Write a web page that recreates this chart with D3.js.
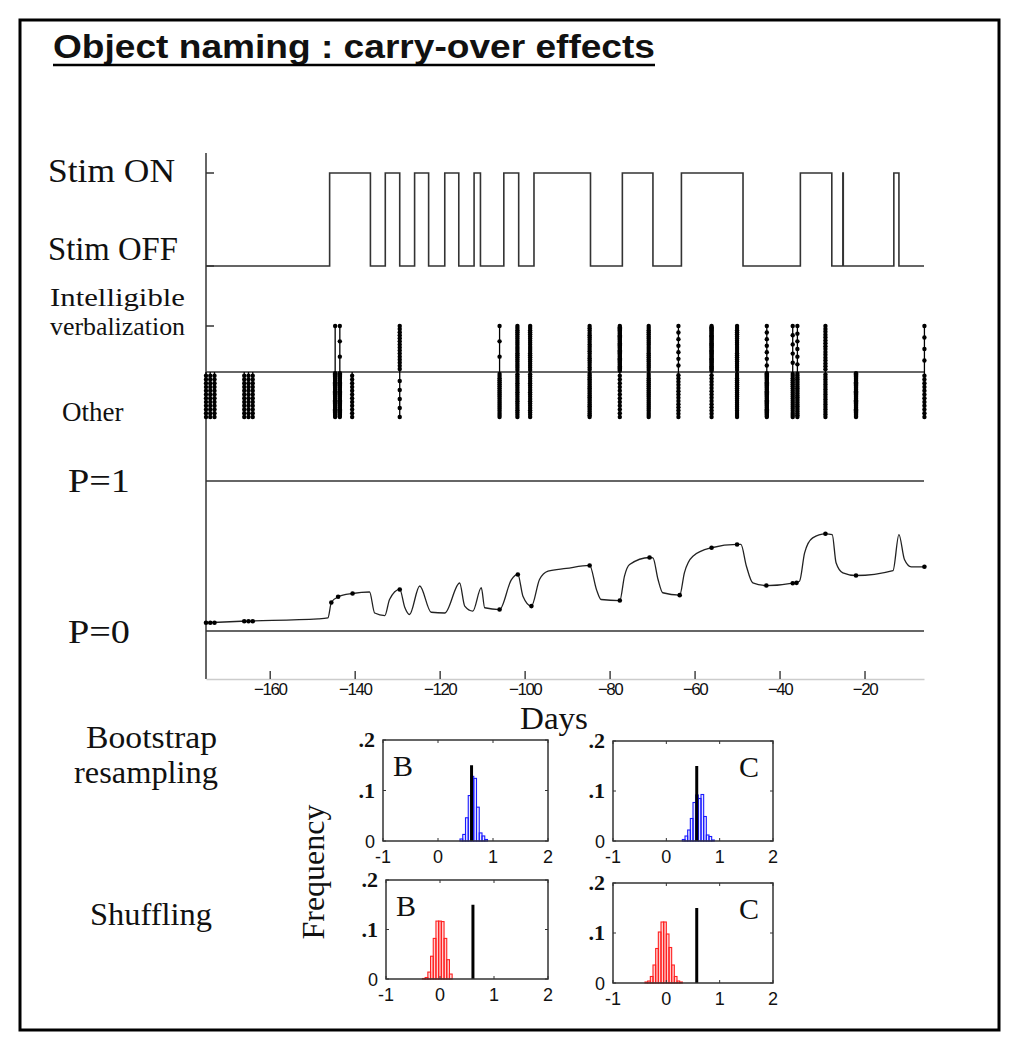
<!DOCTYPE html>
<html>
<head>
<meta charset="utf-8">
<script src="https://cdn.jsdelivr.net/npm/d3@7"></script>
<style>
  body { margin: 0; background: #fff; }
  text { fill: #111; }
</style>
</head>
<body>
<svg id="chart" width="1017" height="1050"></svg>
<script>
// ---- data ----
const dayDomain = [-175, -6];
const dayTicks = [-160, -140, -120, -100, -80, -60, -40, -20];

// stimulation switched on / off (days)
const stimOnDays  = [-145.9, -132.8, -125.9, -118.8, -111.9, -104.9, -97.8, -77.0, -63.1, -35.1, -25.1, -13.1];
const stimOffDays = [-136.3, -129.4, -122.6, -115.5, -110.4, -101.4, -84.5, -69.8, -48.6, -27.7, -25.0, -11.9];

// test sessions: day, number of intelligible / other responses
const sessionDays        = [-175, -174, -173, -166, -165, -164, -144.6, -143.5, -140.6, -129.4, -105.9, -101.7, -98.7, -84.7, -77.6, -70.8, -63.8, -56.0, -50.0, -43.0, -36.9, -35.8, -29.2, -22.0, -5.9];
const intelligibleCounts = [0, 0, 0, 0, 0, 0, 1, 3, 0, 15, 3, 22, 22, 20, 40, 22, 7, 40, 22, 7, 5, 6, 16, 0, 4];
const otherCounts        = [12, 12, 12, 12, 12, 12, 40, 40, 12, 5, 22, 20, 20, 25, 12, 22, 14, 14, 22, 40, 22, 25, 18, 40, 12];

// estimated probability of intelligible verbalization
const probDays   = [-174.8, -166.7, -148.6, -146.3, -145.5, -143.9, -140.5, -136.5, -135.3, -132.9, -131.8, -129.4, -128.2, -127.1, -124.7, -122.0, -118.8, -115.3, -114.1, -112.2, -110.2, -109.4, -105.9, -103.1, -101.6, -100.4, -98.4, -96.5, -94.5, -90.2, -84.7, -83.1, -82.0, -77.6, -76.5, -75.3, -70.6, -69.8, -68.6, -67.5, -63.5, -62.4, -60.4, -56.0, -50.0, -49.1, -47.8, -46.3, -43.1, -36.5, -35.3, -34.1, -32.2, -29.2, -27.6, -26.7, -25.1, -22.0, -13.3, -11.9, -10.6, -9.0, -5.9];
const probValues = [0.055, 0.065, 0.081, 0.088, 0.19, 0.228, 0.25, 0.26, 0.12, 0.103, 0.21, 0.277, 0.157, 0.11, 0.30, 0.125, 0.12, 0.32, 0.166, 0.133, 0.289, 0.155, 0.143, 0.343, 0.377, 0.232, 0.166, 0.343, 0.399, 0.417, 0.437, 0.277, 0.21, 0.203, 0.366, 0.443, 0.49, 0.488, 0.343, 0.255, 0.239, 0.388, 0.499, 0.555, 0.577, 0.577, 0.432, 0.321, 0.303, 0.321, 0.332, 0.521, 0.621, 0.648, 0.643, 0.455, 0.388, 0.37, 0.403, 0.643, 0.477, 0.428, 0.428];
const markDays   = [-175, -174, -173, -166, -165, -164, -145.5, -143.9, -140.5, -129.4, -105.9, -101.6, -98.4, -84.7, -77.6, -70.6, -63.5, -56.0, -50.0, -43.1, -36.9, -36.0, -29.2, -22.0, -5.9];
const markValues = [0.055, 0.055, 0.055, 0.065, 0.065, 0.065, 0.19, 0.228, 0.25, 0.277, 0.143, 0.377, 0.166, 0.437, 0.203, 0.49, 0.239, 0.555, 0.577, 0.303, 0.318, 0.321, 0.648, 0.37, 0.428];

// histograms (bin left edges, bin width 0.05, frequency)
const binWidth = 0.05;
const bootBEdges = [0.40, 0.45, 0.50, 0.55, 0.60, 0.65, 0.70, 0.75, 0.80, 0.85];
const bootBFreq  = [0.004, 0.013, 0.046, 0.090, 0.128, 0.124, 0.067, 0.016, 0.010, 0.003];
const bootCEdges = [0.30, 0.35, 0.40, 0.45, 0.50, 0.55, 0.60, 0.65, 0.70, 0.75, 0.80, 0.85];
const bootCFreq  = [0.003, 0.010, 0.022, 0.045, 0.077, 0.092, 0.085, 0.093, 0.049, 0.012, 0.009, 0.002];
const shufBEdges = [-0.325, -0.275, -0.225, -0.175, -0.125, -0.075, -0.025, 0.025, 0.075, 0.125, 0.175];
const shufBFreq  = [0.001, 0.003, 0.014, 0.046, 0.082, 0.117, 0.117, 0.116, 0.082, 0.039, 0.010];
const shufCEdges = [-0.40, -0.35, -0.30, -0.25, -0.20, -0.15, -0.10, -0.05, 0.00, 0.05, 0.10, 0.15, 0.20, 0.25];
const shufCFreq  = [0.002, 0.004, 0.013, 0.036, 0.069, 0.102, 0.122, 0.122, 0.098, 0.071, 0.036, 0.013, 0.004, 0.002];
const observedB = 0.61, observedC = 0.57, observedFreq = 0.15;
const histXTicks = [-1, 0, 1, 2];
const histYTicks = [0, 0.1, 0.2];
const histYLabels = ["0", ".1", ".2"];

// ---- drawing ----
const svg = d3.select("#chart");
const ink = "#333";
const serif = "'Liberation Serif', 'Times New Roman', serif";
const sans = "'Liberation Sans', Arial, sans-serif";

svg.append("rect").attr("x", 20).attr("y", 20).attr("width", 979).attr("height", 1010)
  .attr("fill", "none").attr("stroke", "#000").attr("stroke-width", 3);

// title
svg.append("text").attr("x", 53).attr("y", 58)
  .attr("font-family", sans).attr("font-weight", "bold").attr("font-size", 34)
  .attr("textLength", 602).attr("lengthAdjust", "spacingAndGlyphs")
  .text("Object naming : carry-over effects");
svg.append("line").attr("x1", 53).attr("x2", 655).attr("y1", 65).attr("y2", 65)
  .attr("stroke", "#000").attr("stroke-width", 2.5);

const x = d3.scaleLinear().domain(dayDomain).range([206, 924]);
const yStim = d3.scaleLinear().domain([0, 1]).range([266, 173]);
const rasterBase = 372, rasterUp = 46, rasterDown = 45;
const yP = d3.scaleLinear().domain([0, 1]).range([631, 481]);

// left axis + x axis
svg.append("line").attr("x1", 206).attr("x2", 206).attr("y1", 153).attr("y2", 679)
  .attr("stroke", ink).attr("stroke-width", 1.5);
const xAxis = svg.append("g").attr("transform", "translate(0,679)")
  .call(d3.axisBottom(x).tickValues(dayTicks).tickSize(-8).tickSizeOuter(0).tickPadding(4));
xAxis.select(".domain").attr("stroke", "#ccc").attr("stroke-width", 1.5);
xAxis.selectAll(".tick line").attr("stroke", "#444").attr("stroke-width", 1.5);
xAxis.selectAll(".tick text").attr("font-family", sans).attr("font-size", 17).attr("fill", "#444")
  .style("letter-spacing", "-1.5px");

[yStim(1), yStim(0), rasterBase - rasterUp].forEach(yy => {
  svg.append("line").attr("x1", 206).attr("x2", 214).attr("y1", yy).attr("y2", yy)
    .attr("stroke", ink).attr("stroke-width", 1.5);
});

// stim trace
const stimPts = [[dayDomain[0], 0]];
stimOnDays.forEach((on, i) => {
  stimPts.push([on, 0], [on, 1], [stimOffDays[i], 1], [stimOffDays[i], 0]);
});
stimPts.push([dayDomain[1], 0]);
svg.append("path").datum(stimPts)
  .attr("d", d3.line().x(d => x(d[0])).y(d => yStim(d[1])))
  .attr("fill", "none").attr("stroke", ink).attr("stroke-width", 1.6);

// raster
svg.append("line").attr("x1", 206).attr("x2", x(dayDomain[1])).attr("y1", rasterBase).attr("y2", rasterBase)
  .attr("stroke", ink).attr("stroke-width", 1.6);
const raster = svg.append("g");
sessionDays.forEach((day, i) => {
  const cx = x(day);
  [[intelligibleCounts[i], -rasterUp], [otherCounts[i], rasterDown]].forEach(([n, span]) => {
    if (!n) return;
    raster.append("line").attr("x1", cx).attr("x2", cx).attr("y1", rasterBase).attr("y2", rasterBase + span)
      .attr("stroke", "#000").attr("stroke-width", 1.3);
    d3.range(1, n + 1).forEach(k => {
      raster.append("circle").attr("cx", cx).attr("cy", rasterBase + span * k / n).attr("r", 2.2).attr("fill", "#000");
    });
  });
});

// probability panel
[1, 0].forEach(v => {
  svg.append("line").attr("x1", 206).attr("x2", x(dayDomain[1])).attr("y1", yP(v)).attr("y2", yP(v))
    .attr("stroke", ink).attr("stroke-width", 1.6);
});
svg.append("path").datum(probDays.map((d, i) => [d, probValues[i]]))
  .attr("d", d3.line().x(d => x(d[0])).y(d => yP(d[1])).curve(d3.curveMonotoneX))
  .attr("fill", "none").attr("stroke", "#222").attr("stroke-width", 1.3);
svg.append("g").selectAll("circle").data(markDays).join("circle")
  .attr("cx", d => x(d)).attr("cy", (d, i) => yP(markValues[i])).attr("r", 2.3).attr("fill", "#000");

// left labels
const lab = (t, xx, yy, size, len, anchor) => {
  const el = svg.append("text").attr("x", xx).attr("y", yy)
    .attr("font-family", serif).attr("font-size", size).attr("text-anchor", anchor || "start").text(t);
  if (len) el.attr("textLength", len).attr("lengthAdjust", "spacingAndGlyphs");
  return el;
};
lab("Stim ON", 48, 182, 33, 127);
lab("Stim OFF", 48, 260, 33, 130);
lab("Intelligible", 50, 306, 26, 135);
lab("verbalization", 50, 335, 26, 135);
lab("Other", 62, 421, 27);
lab("P=1", 68, 492, 34, 62);
lab("P=0", 68, 643, 34, 62);
lab("Days", 554, 729, 32, 68, "middle");
lab("Bootstrap", 86, 748, 32, 131);
lab("resampling", 74, 783, 32, 144);
lab("Shuffling", 90, 925, 32, 122);
svg.append("text").attr("transform", "translate(324,872) rotate(-90)")
  .attr("font-family", serif).attr("font-size", 32).attr("text-anchor", "middle").text("Frequency");

// histogram panels
function histPanel(x0, y0, w, h, letter, letterRight, edges, freq, color, fillc, obs) {
  const hx = d3.scaleLinear().domain([-1, 2]).range([x0, x0 + w]);
  const hy = d3.scaleLinear().domain([0, 0.2]).range([y0 + h, y0]);
  const g = svg.append("g");
  g.selectAll("rect").data(edges).join("rect")
    .attr("x", d => hx(d)).attr("width", hx(binWidth) - hx(0))
    .attr("y", (d, i) => hy(freq[i])).attr("height", (d, i) => hy(0) - hy(freq[i]))
    .attr("fill", fillc).attr("stroke", color).attr("stroke-width", 1.1);
  g.append("line").attr("x1", hx(obs)).attr("x2", hx(obs)).attr("y1", hy(0)).attr("y2", hy(observedFreq))
    .attr("stroke", "#000").attr("stroke-width", 3);
  g.append("rect").attr("x", x0).attr("y", y0).attr("width", w).attr("height", h)
    .attr("fill", "none").attr("stroke", ink).attr("stroke-width", 1.5);
  histXTicks.forEach(t => {
    g.append("line").attr("x1", hx(t)).attr("x2", hx(t)).attr("y1", y0).attr("y2", y0 + 3).attr("stroke", ink);
    g.append("line").attr("x1", hx(t)).attr("x2", hx(t)).attr("y1", y0 + h).attr("y2", y0 + h - 3).attr("stroke", ink);
    g.append("text").attr("x", hx(t)).attr("y", y0 + h + 22).attr("text-anchor", "middle")
      .attr("font-family", sans).attr("font-size", 18).attr("fill", "#333").text(t);
  });
  histYTicks.forEach((t, i) => {
    g.append("line").attr("x1", x0).attr("x2", x0 + 3).attr("y1", hy(t)).attr("y2", hy(t)).attr("stroke", ink);
    g.append("line").attr("x1", x0 + w).attr("x2", x0 + w - 3).attr("y1", hy(t)).attr("y2", hy(t)).attr("stroke", ink);
    g.append("text").attr("x", x0 - 8).attr("y", hy(t) + 7).attr("text-anchor", "end")
      .attr("font-family", i === 0 ? sans : serif).attr("font-weight", i === 0 ? "normal" : "bold")
      .attr("font-size", i === 0 ? 18 : 22).text(histYLabels[i]);
  });
  g.append("text").attr("x", letterRight ? x0 + w - 14 : x0 + 10).attr("y", y0 + 36)
    .attr("text-anchor", letterRight ? "end" : "start")
    .attr("font-family", serif).attr("font-size", 30).text(letter);
}
const blueFill = "rgba(0,0,255,0.08)", redFill = "rgba(255,0,0,0.18)";
histPanel(383, 740, 165, 101, "B", false, bootBEdges, bootBFreq, "#1a1aff", blueFill, observedB);
histPanel(613, 741, 160, 100, "C", true, bootCEdges, bootCFreq, "#1a1aff", blueFill, observedC);
histPanel(386, 880, 162, 99, "B", false, shufBEdges, shufBFreq, "#ff2020", redFill, observedB);
histPanel(613, 883, 160, 100, "C", true, shufCEdges, shufCFreq, "#ff2020", redFill, observedC);
</script>
</body>
</html>
